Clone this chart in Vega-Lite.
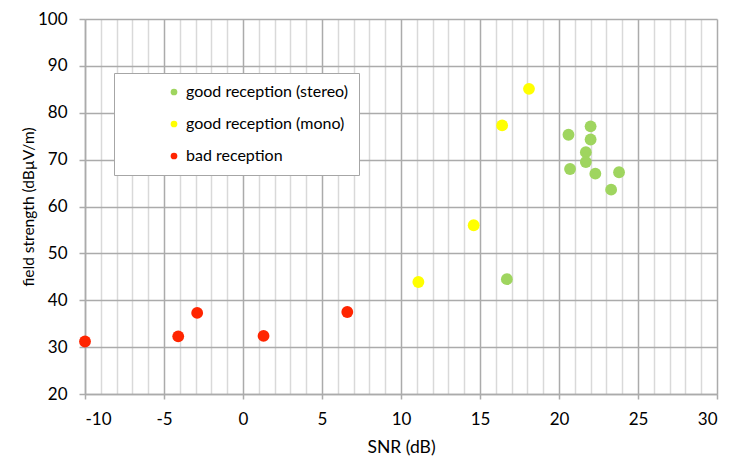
{
  "$schema": "https://vega.github.io/schema/vega-lite/v6.json",
  "autosize": {"type": "none"},
  "padding": {"left": 85, "top": 19, "right": 12, "bottom": 63},
  "width": 632,
  "height": 375,
  "background": "white",
  "config": {
    "font": "Lato",
    "view": {"stroke": null},
    "axis": {"labelFont": "Lato", "titleFont": "Lato", "labelColor": "#000000", "titleColor": "#000000", "titleFontWeight": "normal"}
  },
  "data": {
    "values": [
      {"snr": -10.0, "fs": 31.2, "cat": "bad reception"},
      {"snr": -4.1, "fs": 32.3, "cat": "bad reception"},
      {"snr": -2.9, "fs": 37.3, "cat": "bad reception"},
      {"snr": 1.3, "fs": 32.4, "cat": "bad reception"},
      {"snr": 6.6, "fs": 37.5, "cat": "bad reception"},
      {"snr": 11.1, "fs": 43.9, "cat": "good reception (mono)"},
      {"snr": 14.6, "fs": 56.0, "cat": "good reception (mono)"},
      {"snr": 16.4, "fs": 77.3, "cat": "good reception (mono)"},
      {"snr": 18.1, "fs": 85.1, "cat": "good reception (mono)"},
      {"snr": 16.7, "fs": 44.5, "cat": "good reception (stereo)"},
      {"snr": 20.6, "fs": 75.3, "cat": "good reception (stereo)"},
      {"snr": 22.0, "fs": 77.1, "cat": "good reception (stereo)"},
      {"snr": 22.0, "fs": 74.3, "cat": "good reception (stereo)"},
      {"snr": 21.7, "fs": 71.6, "cat": "good reception (stereo)"},
      {"snr": 21.7, "fs": 69.5, "cat": "good reception (stereo)"},
      {"snr": 20.7, "fs": 68.0, "cat": "good reception (stereo)"},
      {"snr": 22.3, "fs": 67.0, "cat": "good reception (stereo)"},
      {"snr": 23.8, "fs": 67.3, "cat": "good reception (stereo)"},
      {"snr": 23.3, "fs": 63.6, "cat": "good reception (stereo)"}
    ]
  },
  "mark": {"type": "circle", "size": 140, "opacity": 1},
  "encoding": {
    "x": {
      "field": "snr", "type": "quantitative",
      "scale": {"domain": [-10, 30], "nice": false, "zero": false},
      "axis": {
        "title": "SNR (dB)",
        "titleFontSize": 17.5,
        "titlePadding": 11,
        "labelFontSize": 17,
        "labelPadding": 12,
        "values": [-10,-9,-8,-7,-6,-5,-4,-3,-2,-1,0,1,2,3,4,5,6,7,8,9,10,11,12,13,14,15,16,17,18,19,20,21,22,23,24,25,26,27,28,29,30],
        "labelExpr": "datum.value % 5 === 0 ? '' + datum.value : ''",
        "grid": true,
        "gridWidth": 1.5,
        "gridColor": {"condition": {"test": "datum.value % 5 === 0", "value": "#ababab"}, "value": "#d9d9d9"},
        "tickColor": "#ababab",
        "tickWidth": 1.5,
        "tickOpacity": {"condition": {"test": "datum.value % 5 === 0", "value": 1}, "value": 0},
        "tickSize": 5,
        "domainColor": "#ababab",
        "domainWidth": 1.5
      }
    },
    "y": {
      "field": "fs", "type": "quantitative",
      "scale": {"domain": [20, 100], "nice": false, "zero": false},
      "axis": {
        "title": "field strength (dBµV/m)",
        "titleFontSize": 15.5,
        "titlePadding": 1,
        "labelFontSize": 17,
        "labelPadding": 12,
        "values": [20,30,40,50,60,70,80,90,100],
        "grid": true,
        "gridWidth": 1.5,
        "gridColor": "#ababab",
        "tickColor": "#ababab",
        "tickWidth": 1.5,
        "tickSize": 6,
        "domainColor": "#ababab",
        "domainWidth": 1.5
      }
    },
    "color": {
      "field": "cat", "type": "nominal",
      "scale": {
        "domain": ["good reception (stereo)", "good reception (mono)", "bad reception"],
        "range": ["#9fd55f", "#ffff00", "#ff2500"]
      },
      "legend": {
        "title": null,
        "orient": "none",
        "legendX": 29,
        "legendY": 54,
        "direction": "vertical",
        "fillColor": "white",
        "strokeColor": "#a6a6a6",
        "padding": 11,
        "symbolOffset": 41,
        "symbolSize": 45,
        "symbolType": "circle",
        "symbolStrokeWidth": 0,
        "labelFontSize": 16,
        "labelFont": "Lato",
        "labelColor": "#000000",
        "labelOffset": 4,
        "rowPadding": 16,
        "labelLimit": 300
      }
    }
  }
}
